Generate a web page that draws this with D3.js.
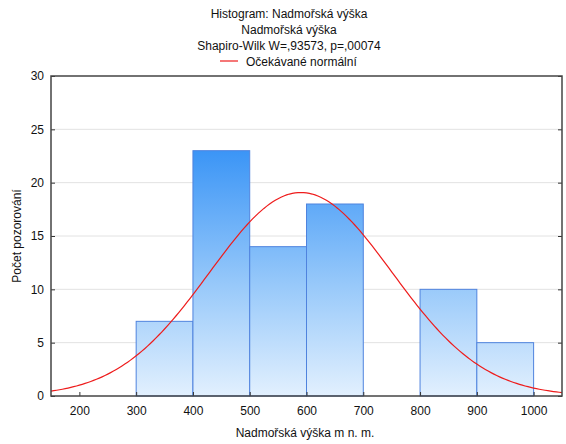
<!DOCTYPE html>
<html><head><meta charset="utf-8">
<script src="https://cdn.jsdelivr.net/npm/d3@7"></script>
<style>body{margin:0;background:#fff}svg{display:block;font-family:"Liberation Sans",Arial,sans-serif}</style>
</head><body><svg id="c" width="566" height="444"></svg>
<script>
const binStarts = [300, 400, 500, 600, 800, 900];
const binWidth = 100;
const counts = [7, 23, 14, 18, 10, 5];
const xTicks = [200, 300, 400, 500, 600, 700, 800, 900, 1000];
const yTicks = [0, 5, 10, 15, 20, 25, 30];
const titleLines = ["Histogram: Nadmořská výška", "Nadmořská výška", "Shapiro-Wilk W=,93573, p=,00074"];
const legendLabel = "Očekávané normální";
const xLabel = "Nadmořská výška m n. m.";
const yLabel = "Počet pozorování";
const normalMean = 590;
const normalSd = 161;
const totalN = counts.reduce((a, b) => a + b, 0);

const svg = d3.select("#c");
const m = {l: 51, r: 562, t: 76, b: 396};
const x = d3.scaleLinear().domain([150, 1050]).range([m.l, m.r]);
const y = d3.scaleLinear().domain([0, 30]).range([m.b, m.t]);

const defs = svg.append("defs");
const g = defs.append("linearGradient").attr("id", "bg").attr("gradientUnits", "userSpaceOnUse")
  .attr("x1", 0).attr("x2", 0).attr("y1", y(23)).attr("y2", y(0));
g.append("stop").attr("offset", 0).attr("stop-color", "#3b95f6");
g.append("stop").attr("offset", 0.55).attr("stop-color", "#98c9fa");
g.append("stop").attr("offset", 1).attr("stop-color", "#e2f0fe");

// gridlines
svg.append("g").selectAll("line").data(yTicks.filter(d => d > 0 && d < 30)).join("line")
  .attr("x1", m.l).attr("x2", m.r).attr("y1", d => y(d)).attr("y2", d => y(d))
  .attr("stroke", "#e2e2e2").attr("stroke-width", 1);

// bars
svg.append("g").selectAll("rect").data(binStarts.map((s, i) => ({s, c: counts[i]}))).join("rect")
  .attr("x", d => x(d.s)).attr("width", d => x(d.s + binWidth) - x(d.s))
  .attr("y", d => y(d.c)).attr("height", d => y(0) - y(d.c))
  .attr("fill", "url(#bg)").attr("stroke", "#4f83de").attr("stroke-width", 1);

// normal curve
const pdf = v => totalN * binWidth / (normalSd * Math.sqrt(2 * Math.PI)) * Math.exp(-0.5 * ((v - normalMean) / normalSd) ** 2);
const xs = d3.range(150, 1050.1, 5);
svg.append("path").datum(xs)
  .attr("d", d3.line().x(d => x(d)).y(d => y(pdf(d))))
  .attr("fill", "none").attr("stroke", "#ee1c1c").attr("stroke-width", 1.2);

// axes
const xAxis = svg.append("g").attr("transform", `translate(0,${m.b})`)
  .call(d3.axisBottom(x).tickValues(xTicks).tickFormat(d3.format("d")).tickSizeInner(-4).tickSizeOuter(0).tickPadding(10));
const yAxis = svg.append("g").attr("transform", `translate(${m.l},0)`)
  .call(d3.axisLeft(y).tickValues(yTicks).tickFormat(d3.format("d")).tickSizeInner(-4).tickSizeOuter(0).tickPadding(7));
const yAxisR = svg.append("g").attr("transform", `translate(${m.r},0)`)
  .call(d3.axisRight(y).tickValues(yTicks).tickSizeInner(-4).tickSizeOuter(0).tickFormat(""));
[xAxis, yAxis, yAxisR].forEach(a => {
  a.select(".domain").remove();
  a.selectAll("line").attr("stroke", "#333");
  a.selectAll("text").attr("font-size", 12).attr("fill", "#111").attr("font-family", "Liberation Sans, Arial, sans-serif");
});
// frame
svg.append("rect").attr("x", m.l).attr("y", m.t).attr("width", m.r - m.l).attr("height", m.b - m.t)
  .attr("fill", "none").attr("stroke", "#444").attr("stroke-width", 1.5);

// titles
svg.append("g").selectAll("text").data(titleLines).join("text")
  .attr("x", 289).attr("y", (d, i) => 18 + i * 16).attr("text-anchor", "middle")
  .attr("font-size", 12).attr("fill", "#111").text(d => d);
svg.append("line").attr("x1", 220).attr("x2", 238).attr("y1", 61).attr("y2", 61)
  .attr("stroke", "#ee1c1c").attr("stroke-width", 1.2);
svg.append("text").attr("x", 246).attr("y", 65.5).attr("font-size", 12).attr("fill", "#111").text(legendLabel);

svg.append("text").attr("x", 305).attr("y", 437).attr("text-anchor", "middle")
  .attr("font-size", 12).attr("fill", "#111").text(xLabel);
svg.append("text").attr("transform", "translate(21,236) rotate(-90)").attr("text-anchor", "middle")
  .attr("font-size", 12).attr("fill", "#111").text(yLabel);
</script></body></html>
